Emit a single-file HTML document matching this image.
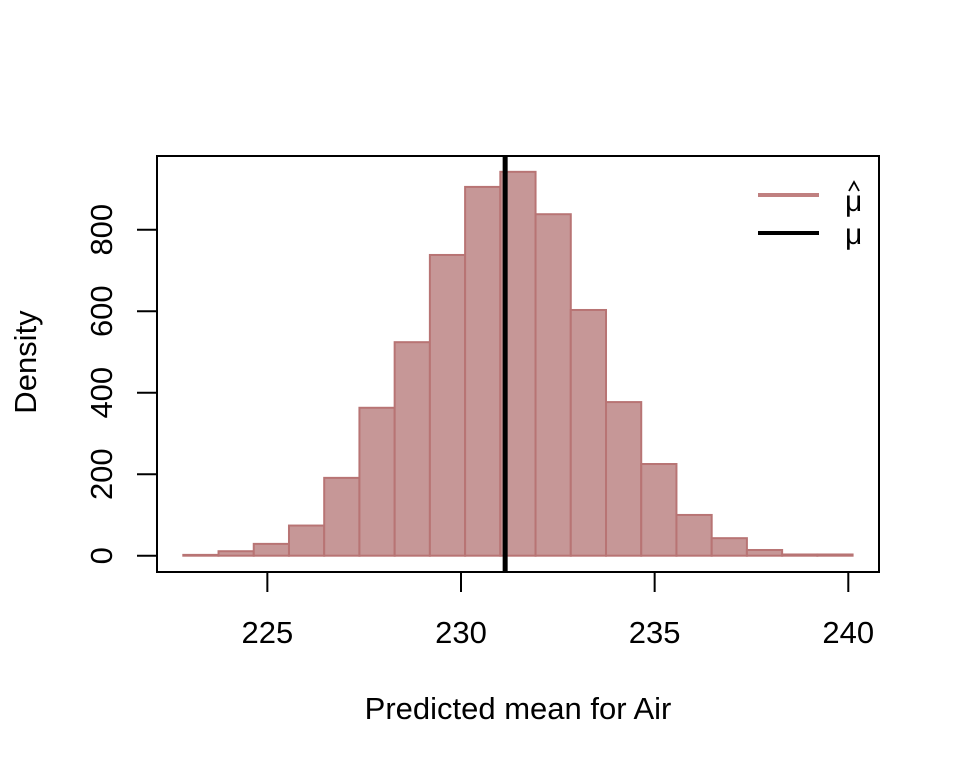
<!DOCTYPE html>
<html><head><meta charset="utf-8"><style>
html,body{margin:0;padding:0;background:#fff;}
svg text{font-family:"Liberation Sans",Arial,sans-serif;fill:#000;}
</style></head><body>
<svg id="chart" width="960" height="768" viewBox="0 0 960 768" xmlns="http://www.w3.org/2000/svg">
<rect width="960" height="768" fill="#fff"/>
<g id="bars"></g>
<g id="axes"></g>
<rect x="157" y="156" width="722" height="416" fill="none" stroke="#000" stroke-width="2"/>
<text x="518" y="719" font-size="31" text-anchor="middle">Predicted mean for Air</text>
<text transform="translate(36,362) rotate(-90)" font-size="31" text-anchor="middle">Density</text>
<g>
<line x1="758" y1="195" x2="819" y2="195" stroke="#c08080" stroke-width="4"/>
<text x="845" y="211" font-size="30" font-family="DejaVu Sans, sans-serif">μ</text>
<polyline points="849,191 854,182 859,191" fill="none" stroke="#000" stroke-width="1.8"/>
<line x1="758" y1="233" x2="819" y2="233" stroke="#000" stroke-width="4"/>
<text x="845" y="244" font-size="30" font-family="DejaVu Sans, sans-serif">μ</text>
</g>
</svg>
<script>
const binStart = 222.83;
const binWidth = 0.9095;
const densities = [2, 11, 29, 74, 191, 363, 524, 738, 905, 942, 838, 603, 377, 225, 100, 43, 14, 3, 3];
const xTicks = [225, 230, 235, 240];
const yTicks = [0, 200, 400, 600, 800];
const trueMean = [231.14];

const NS = "http://www.w3.org/2000/svg";
function xs(v){ return 461 + (v - 230) * 38.73; }
function ys(v){ return 555.7 - v * 0.4075; }
function mk(tag, attrs, parent){
  const e = document.createElementNS(NS, tag);
  for (const k in attrs) e.setAttribute(k, attrs[k]);
  parent.appendChild(e);
  return e;
}
const bars = document.getElementById('bars');
densities.forEach((d, i) => {
  const x0 = xs(binStart + i * binWidth), x1 = xs(binStart + (i + 1) * binWidth);
  const r = mk('rect', {x: x0, y: ys(d), width: x1 - x0, height: ys(0) - ys(d), fill: '#c69797', stroke: '#b87474', 'stroke-width': 2}, bars);
  
  
});
const axes = document.getElementById('axes');
xTicks.forEach(t => {
  const l = mk('line', {x1: xs(t), x2: xs(t), y1: 572, y2: 592, stroke: '#000', 'stroke-width': 2}, axes);
  
  
  const tx = mk('text', {x: xs(t), y: 643, 'font-size': 31, 'text-anchor': 'middle'}, axes);
  tx.textContent = t;
  
  
});
yTicks.forEach(t => {
  const l = mk('line', {x1: 137, x2: 157, y1: ys(t), y2: ys(t), stroke: '#000', 'stroke-width': 2}, axes);
  
  
  const tx = mk('text', {transform: 'translate(112,' + ys(t) + ') rotate(-90)', 'font-size': 31, 'text-anchor': 'middle'}, axes);
  tx.textContent = t;
  
  
});
trueMean.forEach(m => {
  const l = mk('line', {x1: xs(m), x2: xs(m), y1: 157, y2: 571, stroke: '#000', 'stroke-width': 5}, document.getElementById('chart'));
  
  
});
</script>
</body></html>
